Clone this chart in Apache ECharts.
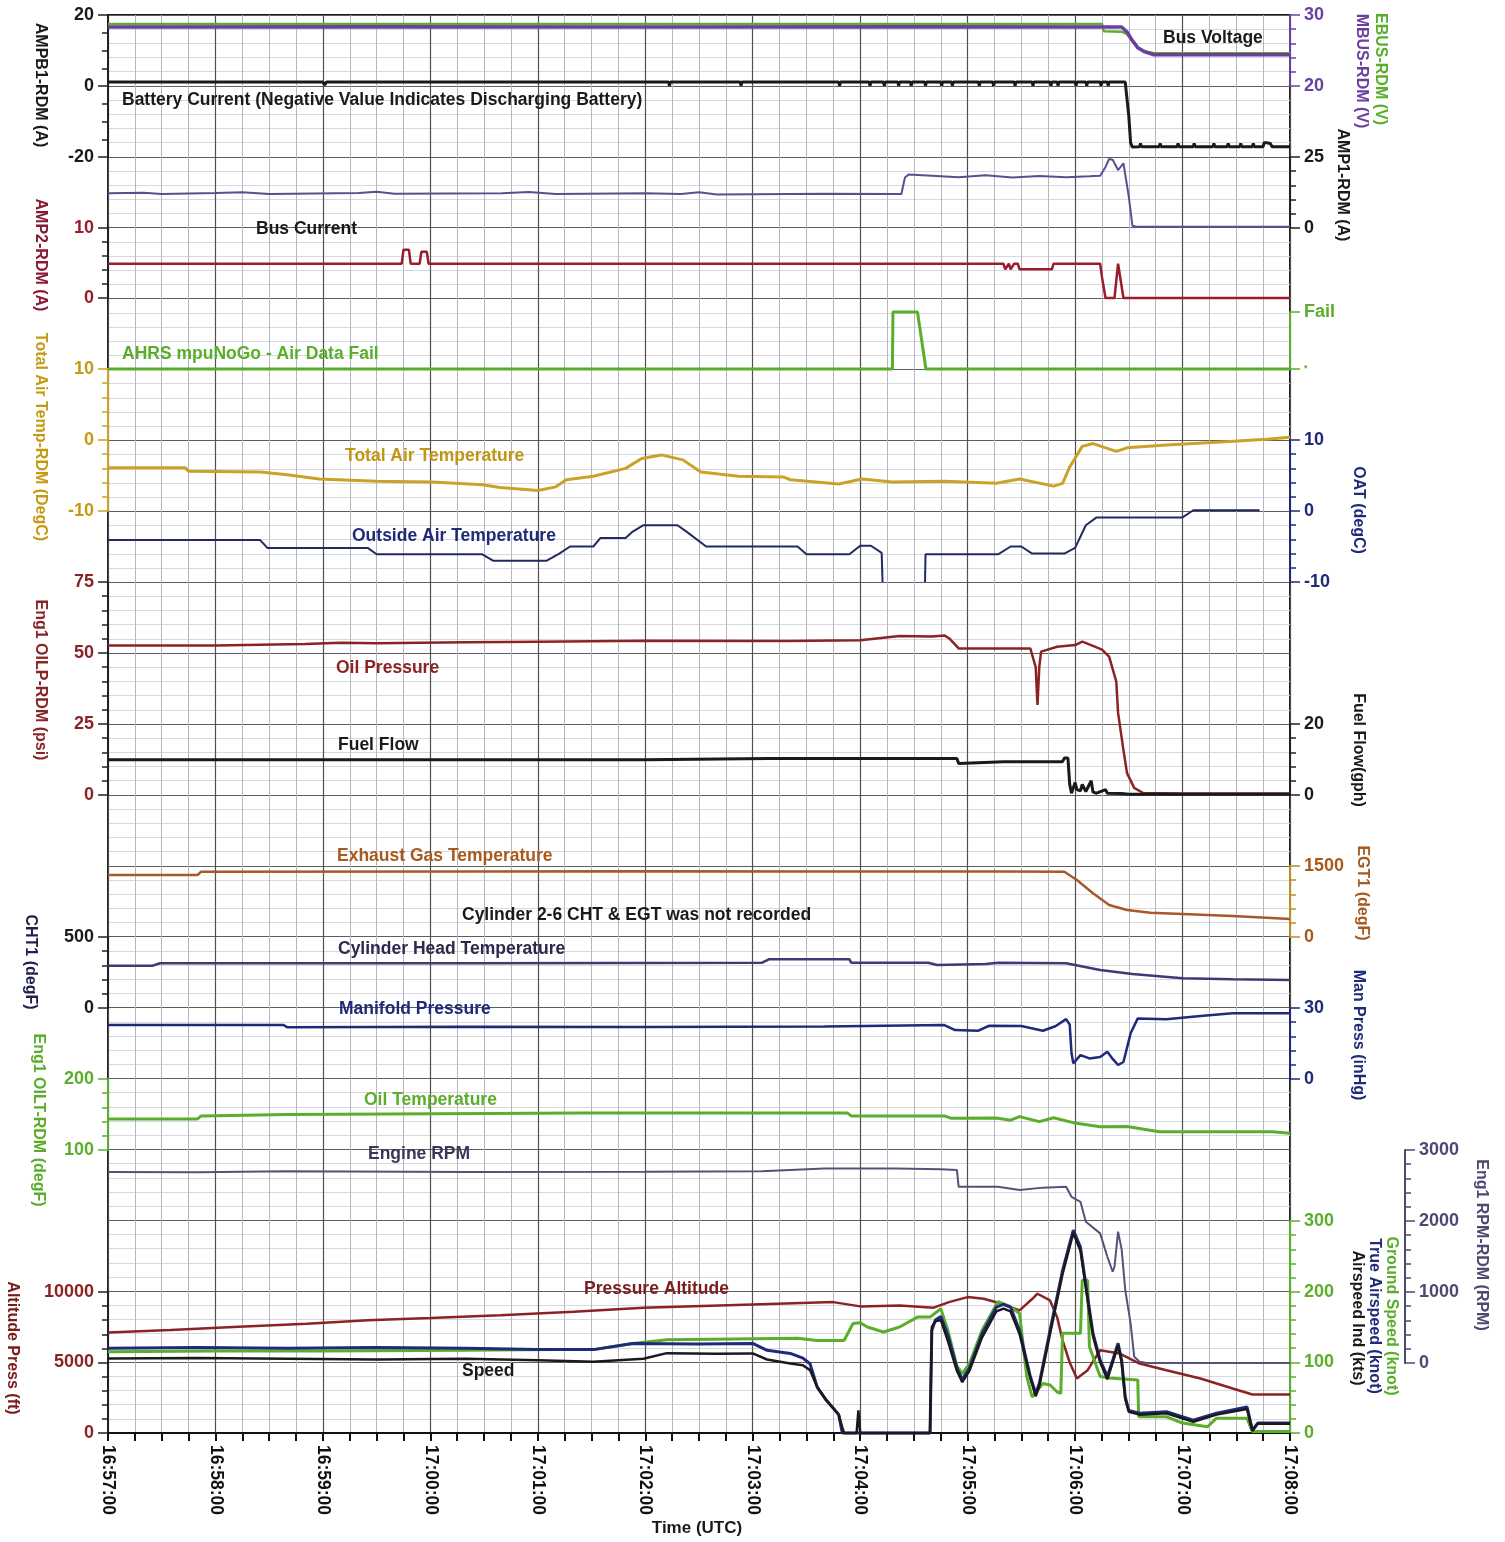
<!DOCTYPE html>
<html>
<head>
<meta charset="utf-8">
<script src="https://cdn.jsdelivr.net/npm/echarts@6/dist/echarts.min.js"></script>
<style>
html,body{margin:0;padding:0;background:#fff;}
#chart{width:1505px;height:1542px;}
</style>
</head>
<body>
<div id="chart"></div>
<script>
// ---------------- DATA (time in seconds after 16:57:00 UTC) ----------------
const timeLabels = ['16:57:00','16:58:00','16:59:00','17:00:00','17:01:00','17:02:00','17:03:00','17:04:00','17:05:00','17:06:00','17:07:00','17:08:00'];

const mbusVolt = [[0,28.3],[150,28.35],[300,28.3],[450,28.35],[566,28.3],[569,27.6],[572,26.4],[575,25.4],[579,24.8],[584,24.4],[620,24.4],[660,24.4]];
const ebusVolt = [[0,28.75],[300,28.75],[555,28.75],[556,27.7],[566,27.65],[569,27.3],[572,26.3],[575,25.4],[579,24.9],[584,24.6],[660,24.6]];

const batteryCurrent = [[0,1.1],[120,1.1],[121,0.3],[122,1.1],[313,1.1],[313.5,0.1],[314,1.1],[353,1.1],[353.5,0.1],[354,1.1],[408,1.1],[408.5,0.1],[409,1.1],[425,1.1],[425.5,0.1],[426,1.1],[433,1.1],[433.5,0.1],[434,1.1],[441,1.1],[441.5,0.1],[442,1.1],[448,1.1],[448.5,0.1],[449,1.1],[456,1.1],[456.5,0.1],[457,1.1],[465,1.1],[465.5,0.1],[466,1.1],[471,1.1],[471.5,0.1],[472,1.1],[486,1.1],[486.5,0.1],[487,1.1],[494,1.1],[494.5,0.1],[495,1.1],[506,1.1],[506.5,0.1],[507,1.1],[516,1.1],[516.5,0.1],[517,1.1],[526,1.1],[526.5,0.1],[527,1.1],[530,1.1],[530.5,0.1],[531,1.1],[540,1.1],[540.5,0.1],[541,1.1],[546,1.1],[546.5,0.1],[547,1.1],[554,1.1],[554.5,0.1],[555,1.1],[558,1.1],[558.5,0.1],[559,1.1],[568,1.1],[569,0.8],[570,-8.5],[571,-16.0],[572,-17.2],[576,-17.1],[576.5,-16.2],[577,-17.1],[587,-17.1],[587.5,-16.2],[588,-17.1],[597,-17.1],[597.5,-16.2],[598,-17.1],[606,-17.1],[606.5,-16.2],[607,-17.1],[617,-17.1],[617.5,-16.2],[618,-17.1],[625,-17.1],[625.5,-16.2],[626,-17.1],[632,-17.1],[632.5,-16.2],[633,-17.1],[639,-17.1],[639.5,-16.2],[640,-17.1],[645,-17.1],[645.5,-16.0],[647,-16.0],[649,-16.2],[650,-17.1],[660,-17.1]];

const busCurrentAmp1 = [[0,12.2],[20,12.4],[30,12.0],[60,12.3],[75,12.6],[90,12.0],[140,12.3],[150,12.8],[160,12.1],[220,12.2],[235,12.7],[250,12.0],[300,12.2],[320,12.0],[330,12.6],[340,11.8],[400,12.1],[443,12.0],[445,17.8],[447,18.8],[460,18.4],[475,17.9],[490,18.6],[505,17.8],[520,18.3],[535,17.9],[548,18.2],[554,18.4],[557,21.5],[559,24.3],[561,24.0],[564,20.4],[567,22.8],[568,22.5],[570,11],[572,0.8],[575,0.4],[660,0.4]];

const busCurrentAmp2 = [[0,4.9],[164,4.9],[165,6.9],[168,6.9],[169,4.9],[174,4.9],[175,6.6],[178,6.6],[179,4.9],[500,4.9],[501,4.1],[503,4.9],[504,4.1],[506,4.9],[508,4.9],[509,4.1],[527,4.1],[528,4.9],[554,4.9],[555,3],[557,0],[562,0],[564,4.9],[565,4.9],[567,0],[660,0]];

const ahrsFail = [[0,0],[438,0],[438.3,1],[452,1],[456.7,0],[660,0]];

const totalAirTemp = [[0,-3.9],[43,-3.9],[45,-4.4],[85,-4.5],[100,-4.9],[118,-5.5],[150,-5.8],[181,-5.9],[209,-6.3],[219,-6.7],[240,-7.1],[250,-6.6],[256,-5.6],[271,-5.1],[289,-4.0],[298,-2.6],[309,-2.1],[321,-2.8],[331,-4.5],[352,-5.1],[377,-5.2],[381,-5.6],[408,-6.2],[421,-5.5],[438,-5.9],[467,-5.8],[496,-6.1],[509,-5.5],[528,-6.5],[533,-6.1],[537,-3.8],[544,-0.9],[550,-0.5],[563,-1.6],[569,-1.1],[591,-0.7],[619,-0.3],[647,0.1],[660,0.4]];

const outsideAirTemp = [[0,-4.1],[85,-4.1],[89,-5.2],[145,-5.2],[150,-6.1],[209,-6.1],[215,-7.0],[245,-7.0],[252,-6.0],[258,-5.0],[271,-5.0],[275,-3.8],[289,-3.8],[293,-2.9],[299,-2.0],[318,-2.0],[323,-2.9],[334,-5.0],[385,-5.0],[390,-6.1],[414,-6.1],[420,-4.9],[426,-4.9],[432,-5.9],[432.5,-10],[433,'-'],[456,'-'],[456.2,-10],[456.5,-6.1],[497,-6.1],[504,-5.0],[510,-5.0],[516,-6.0],[534,-6.0],[540,-5.2],[546,-2.0],[552,-0.9],[600,-0.9],[606,0.1],[643,0.1]];

const oilPressure = [[0,52.6],[60,52.6],[110,53.2],[130,53.6],[150,53.4],[200,53.8],[240,54.0],[300,54.3],[380,54.2],[420,54.5],[442,56.0],[460,55.8],[467,56.2],[470,55.0],[475,51.6],[515,51.6],[518,45],[519,31.7],[520,45],[521,50.5],[530,52.2],[540,52.8],[544,54.0],[550,52.5],[555,51.2],[559,48.7],[563,39.9],[564,28.9],[567,15.8],[569,7.7],[573,2.5],[578,0.7],[600,0.5],[660,0.5]];

const fuelFlow = [[0,9.9],[100,9.9],[200,9.9],[300,9.9],[369,10.3],[450,10.3],[474,10.3],[475,8.9],[500,9.4],[533,9.4],[534,10.4],[536,10.4],[537,3],[538,0.5],[540,3.5],[541,1.5],[543,1.2],[544,3.0],[546,1.0],[549,4.0],[550,0.8],[552,0.5],[557,1.5],[558,0.5],[566,0.4],[570,0.2],[660,0.2]];

const egt1 = [[0,1310],[50,1310],[52,1380],[200,1385],[300,1390],[400,1385],[500,1385],[534,1380],[541,1204],[550,923],[559,676],[569,570],[582,514],[600,486],[628,444],[647,408],[660,380]];

const cht1 = [[0,298],[25,298],[29,315],[200,315],[365,318],[369,343],[414,343],[415,319],[458,319],[463,303],[490,310],[497,318],[535,315],[554,268],[572,239],[600,209],[628,202],[660,197]];

const manPress = [[0,22.8],[98,22.8],[100,21.9],[200,22.1],[300,22.0],[400,22.2],[467,22.8],[473,20.7],[486,20.4],[492,22.5],[510,22.4],[522,20.4],[529,22.3],[535,25.3],[537,23],[538,10.9],[539,6.6],[543,10.1],[548,8.7],[554,9.3],[558,11.5],[561,8.5],[564,5.9],[567,7.2],[571,19.3],[575,25.6],[591,25.2],[610,26.6],[628,27.8],[660,27.8]];

const oilTemp = [[0,143.7],[50,143.7],[52,148],[100,150],[265,152],[413,152],[415,148],[467,148],[471,144.6],[496,145],[504,142],[509,147],[520,140],[528,145.5],[539,138.5],[554,132.8],[569,133],[587,125.8],[650,125.8],[660,123.5]];

const engineRpm = [[0,2690],[50,2685],[100,2700],[200,2690],[300,2694],[365,2700],[400,2741],[440,2741],[465,2730],[474,2720],[475,2482],[497,2482],[509,2436],[522,2470],[535,2482],[538,2341],[543,2271],[546,1989],[554,1826],[558,1497],[561,1285],[562,1356],[564,1849],[566,1600],[568,1028],[571,559],[573,89],[576,18],[580,0],[660,0]];

const pressAltitude = [[0,7120],[35,7300],[70,7517],[111,7755],[145,7990],[180,8150],[219,8343],[260,8600],[299,8887],[360,9120],[405,9283],[420,8980],[442,9050],[461,8887],[470,9300],[480,9637],[489,9520],[498,9200],[509,8697],[516,9500],[519,9877],[526,9404],[530,8200],[533,6576],[537,5000],[541,3865],[547,4454],[554,5868],[565,5632],[576,4925],[591,4454],[610,3865],[628,3158],[639,2733],[660,2733]];

const groundSpeed = [[0,115],[60,116],[120,116],[200,117],[250,118],[271,118],[293,126.7],[312,132],[350,133],[385,134],[396,131],[411,131],[416,155],[420,156],[424,150],[433,143],[442,150],[452,164],[459,164],[463,172],[465,176],[469,145],[474,95],[477,84],[481,98],[488,145],[497,186],[503,180],[509,169],[513,80],[516,51],[522,70],[526,68],[530,58],[532,56],[533,141],[543,141],[544,216],[547,216],[548,122],[554,80],[559,78],[575,75],[575.5,23],[591,23],[600,14],[614,9],[619,21],[636,21],[639,2],[660,2]];

const trueAirspeed = [[0,120],[50,121],[100,120],[150,121],[200,120],[240,118],[271,118],[293,126.7],[330,126],[360,126.7],[368,117],[381,112.6],[388,106],[392,98],[396,65],[401,46.6],[405,35],[408,26],[410,0],[459,0],[460,145],[462,160],[465,165],[469,138],[474,92],[477,76],[481,92],[488,140],[496,178],[500,182],[504,178],[509,145],[515,80],[518,56],[520,70],[526,145],[533,230],[539,287],[543,263],[547,192],[550,141],[554,103],[558,80],[561,103],[564,127],[566,103],[568,51],[570,32],[576,28],[591,30],[606,18],[619,28],[636,37],[639,4],[642,14],[660,14]];

const indicatedAirspeed = [[0,105.5],[50,106],[100,105],[150,104],[200,105],[240,103],[271,100.7],[299,105],[312,113],[340,112],[360,112.6],[368,104],[381,98.4],[388,96],[392,89],[396,65],[401,46.6],[405,35],[408,26],[410,8],[411,0],[418,0],[419,32],[420,0],[459,0],[460,150],[462,158],[465,160],[469,130],[474,88],[477,72],[481,88],[488,135],[496,172],[500,176],[504,172],[509,140],[515,78],[518,52],[520,66],[526,140],[533,225],[539,283],[543,258],[547,188],[550,137],[554,100],[558,76],[561,100],[564,124],[566,100],[568,48],[570,30],[576,26],[591,28],[606,16],[619,26],[636,34],[639,3],[642,13],[660,13]];

// ---------------- LAYOUT / STYLE ----------------
const FF = '"Liberation Sans", Arial, Helvetica, sans-serif';
const PL = 108, PR = 1290, PT = 15, PB = 1433;

const C = {
  black:'#1a1a1a', purple:'#6a3fa0', green:'#5aae2c', red:'#9c1c2c', gold:'#c9a227',
  navy:'#1f2a78', darkred:'#8a2424', brown:'#a65a1e', slate:'#4d4a72', rpm:'#55527a'
};

const axisSpecs = [
  {side:'left', top:15, bottom:157, min:-20, max:20, interval:20, minor:4, lc:C.black, ac:'#222'},
  {side:'left', top:228, bottom:298, min:0, max:10, interval:10, minor:5, lc:C.red, ac:'#222'},
  {side:'left', top:369, bottom:511, min:-10, max:10, interval:10, minor:5, lc:'#c49a12', ac:C.gold},
  {side:'left', top:582, bottom:795, min:0, max:75, interval:25, minor:5, lc:C.darkred, ac:'#222'},
  {side:'left', top:937, bottom:1008, min:0, max:500, interval:500, minor:5, lc:C.black, ac:'#222'},
  {side:'left', top:1079, bottom:1150, min:100, max:200, interval:100, minor:5, lc:C.green, ac:C.green},
  {side:'left', top:1292, bottom:1433, min:0, max:10000, interval:5000, minor:5, lc:C.darkred, ac:'#222'},
  {side:'right', top:15, bottom:86, min:20, max:30, interval:10, minor:5, lc:C.purple, ac:C.purple},
  {side:'right', top:157, bottom:228, min:0, max:25, interval:25, minor:5, lc:C.black, ac:'#222'},
  {side:'right', top:312, bottom:369, min:0, max:1, interval:1, minor:0, lc:C.green, ac:C.green, fmt:v => v === 1 ? 'Fail' : '{s|*}'},
  {side:'right', top:440, bottom:582, min:-10, max:10, interval:10, minor:5, lc:C.navy, ac:C.navy},
  {side:'right', top:724, bottom:795, min:0, max:20, interval:20, minor:5, lc:C.black, ac:'#222'},
  {side:'right', top:866, bottom:937, min:0, max:1500, interval:1500, minor:5, lc:C.brown, ac:'#b89020'},
  {side:'right', top:1008, bottom:1079, min:0, max:30, interval:30, minor:5, lc:C.navy, ac:C.navy},
  {side:'right', top:1221, bottom:1433, min:0, max:300, interval:100, minor:5, lc:C.green, ac:C.green},
  {side:'right', top:1150, bottom:1363, min:0, max:3000, interval:1000, minor:5, lc:C.slate, ac:C.slate, offset:115}
];

const seriesSpecs = [
  {data:ebusVolt, axis:7, color:C.green, w:2.5},
  {data:mbusVolt, axis:7, color:C.purple, w:3.5},
  {data:batteryCurrent, axis:0, color:C.black, w:3},
  {data:busCurrentAmp1, axis:8, color:'#5a4f8e', w:2},
  {data:busCurrentAmp2, axis:1, color:C.red, w:2.5},
  {data:ahrsFail, axis:9, color:C.green, w:3},
  {data:totalAirTemp, axis:2, color:C.gold, w:3},
  {data:outsideAirTemp, axis:10, color:'#222a60', w:2},
  {data:oilPressure, axis:3, color:C.darkred, w:2.5},
  {data:fuelFlow, axis:11, color:C.black, w:3},
  {data:egt1, axis:12, color:'#a8582a', w:2.5},
  {data:cht1, axis:4, color:'#3d3a78', w:2.5},
  {data:manPress, axis:13, color:C.navy, w:2.5},
  {data:oilTemp, axis:5, color:C.green, w:3},
  {data:engineRpm, axis:15, color:C.rpm, w:2},
  {data:pressAltitude, axis:6, color:C.darkred, w:2.5},
  {data:groundSpeed, axis:14, color:C.green, w:3},
  {data:trueAirspeed, axis:14, color:C.navy, w:3},
  {data:indicatedAirspeed, axis:14, color:C.black, w:2.5}
];

const grids = [{left:PL, top:PT, width:PR-PL, height:PB-PT, show:true, borderColor:'#1a1a1a', borderWidth:2}];
const xAxes = [{
  type:'value', gridIndex:0, min:0, max:660, interval:60,
  axisLine:{onZero:false, lineStyle:{color:'#111', width:2}},
  axisTick:{show:true, length:8, lineStyle:{color:'#111', width:2}},
  minorTick:{show:true, splitNumber:4, length:8, lineStyle:{color:'#111', width:2}},
  splitLine:{show:true, lineStyle:{color:'#505050', width:1.2}},
  minorSplitLine:{show:true, lineStyle:{color:'#b6b6c0', width:1}},
  axisLabel:{rotate:-90, margin:12, color:'#111', fontFamily:FF, fontWeight:'bold', fontSize:17.5,
    formatter: v => timeLabels[Math.round(v / 60)] || ''}
}];
const yAxes = [{
  type:'value', gridIndex:0, min:0, max:20, interval:1,
  axisLine:{show:false, onZero:false}, axisTick:{show:false}, axisLabel:{show:false},
  minorTick:{show:false, splitNumber:5},
  splitLine:{show:true, lineStyle:{color:'#5e5e5e', width:1.2}},
  minorSplitLine:{show:true, lineStyle:{color:'#d8d8e0', width:1}}
}];

axisSpecs.forEach((a, i) => {
  const gi = i + 1;
  grids.push({left:PL, width:PR-PL, top:a.top, height:a.bottom-a.top, show:false});
  xAxes.push({type:'value', gridIndex:gi, min:0, max:660, show:false});
  yAxes.push({
    type:'value', gridIndex:gi, position:a.side, offset:a.offset || 0,
    min:a.min, max:a.max, interval:a.interval,
    axisLine:{show:true, onZero:false, lineStyle:{color:a.ac, width:2}},
    axisTick:{show:true, length:10, lineStyle:{color:a.ac, width:1.5}},
    minorTick:{show:a.minor > 0, splitNumber:a.minor || 1, length:6, lineStyle:{color:a.ac, width:1.5}},
    splitLine:{show:false}, minorSplitLine:{show:false},
    axisLabel:{color:a.lc, fontFamily:FF, fontWeight:'bold', fontSize:18, margin:14,
      formatter:a.fmt || (v => String(v)),
      rich:{s:{fontSize:9, color:a.lc, fontFamily:FF}}}
  });
});

const series = seriesSpecs.map(s => ({
  type:'line', xAxisIndex:s.axis + 1, yAxisIndex:s.axis + 1,
  data:s.data, symbol:'none', showSymbol:false, clip:false, animation:false,
  lineStyle:{color:s.color, width:s.w}, z:3
}));

function label(text, x, y, color, opts) {
  opts = opts || {};
  return {type:'text', x, y, rotation: opts.rot ? -Math.PI / 2 : 0, z:100,
    style:{text, fill:color, font:'bold ' + (opts.size || 17.5) + 'px ' + FF,
      align: opts.rot ? 'center' : (opts.align || 'left'), verticalAlign:'middle'}};
}

const graphics = [
  label('Bus Voltage', 1163, 38, C.black),
  label('Battery Current (Negative Value Indicates Discharging Battery)', 122, 100, C.black),
  label('Bus Current', 256, 229, C.black),
  label('AHRS mpuNoGo - Air Data Fail', 122, 354, C.green),
  label('Total Air Temperature', 345, 456, '#c09614'),
  label('Outside Air Temperature', 352, 536, C.navy),
  label('Oil Pressure', 336, 668, C.darkred),
  label('Fuel Flow', 338, 745, C.black),
  label('Exhaust Gas Temperature', 337, 856, C.brown),
  label('Cylinder 2-6 CHT & EGT was not recorded', 462, 915, C.black),
  label('Cylinder Head Temperature', 338, 949, '#2a2a4a'),
  label('Manifold Pressure', 339, 1009, C.navy),
  label('Oil Temperature', 364, 1100, C.green),
  label('Engine RPM', 368, 1154, '#3a3858'),
  label('Pressure Altitude', 584, 1289, '#7a2020'),
  label('Speed', 462, 1371, C.black),
  label('AMPB1-RDM (A)', 40, 85, C.black, {rot:true, size:16}),
  label('AMP2-RDM (A)', 40, 255, '#8a1a34', {rot:true, size:16}),
  label('Total Air Temp-RDM (DegC)', 40, 437, '#c49a12', {rot:true, size:16}),
  label('Eng1 OILP-RDM (psi)', 40, 680, C.darkred, {rot:true, size:16}),
  label('CHT1 (degF)', 30, 962, '#1e2050', {rot:true, size:16}),
  label('Eng1 OILT-RDM (degF)', 38, 1120, C.green, {rot:true, size:16}),
  label('Altitude Press (ft)', 12, 1348, '#7a1a1a', {rot:true, size:16}),
  label('EBUS-RDM (V)', 1380, 69, C.green, {rot:true, size:16}),
  label('MBUS-RDM (V)', 1361, 71, C.purple, {rot:true, size:16}),
  label('AMP1-RDM (A)', 1342, 185, C.black, {rot:true, size:16}),
  label('OAT (degC)', 1358, 510, C.navy, {rot:true, size:16}),
  label('Fuel Flow(gph)', 1358, 750, C.black, {rot:true, size:16}),
  label('EGT1 (degF)', 1362, 893, C.brown, {rot:true, size:16}),
  label('Man Press (inHg)', 1358, 1035, C.navy, {rot:true, size:16}),
  label('Ground Speed (knot)', 1391, 1316, C.green, {rot:true, size:16}),
  label('True Airspeed (knot)', 1374, 1316, C.navy, {rot:true, size:16}),
  label('Airspeed Ind (kts)', 1357, 1318, C.black, {rot:true, size:16}),
  label('Eng1 RPM-RDM (RPM)', 1481, 1245, C.slate, {rot:true, size:16}),
  {type:'text', x:697, y:1528, z:100, style:{text:'Time (UTC)', fill:C.black, font:'bold 17px ' + FF, align:'center', verticalAlign:'middle'}}
];

const chart = echarts.init(document.getElementById('chart'), null, {renderer:'canvas'});
chart.setOption({
  backgroundColor:'#ffffff',
  animation:false,
  grid:grids, xAxis:xAxes, yAxis:yAxes, series:series,
  graphic:graphics
});
</script>
</body>
</html>
